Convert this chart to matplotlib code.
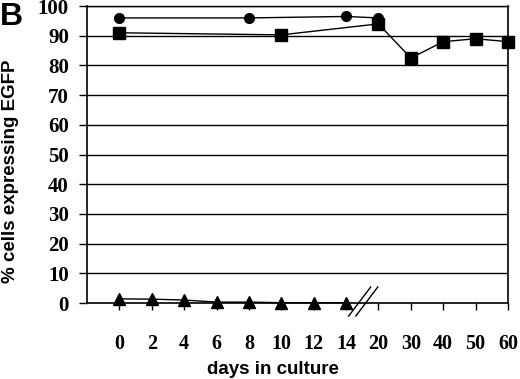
# EGFP expression over time in culture, panel B
import matplotlib.pyplot as plt

# categories on the x axis (broken axis after day 14)
days = ["0", "2", "4", "6", "8", "10", "12", "14", "20", "30", "40", "50", "60"]

# circles: days 0, 8, 14, 20
circle_days = ["0", "8", "14", "20"]
circle_vals = [96, 96, 96.5, 96]

# squares: days 0, 10, 20, 30, 40, 50, 60
square_days = ["0", "10", "20", "30", "40", "50", "60"]
square_vals = [91, 90.3, 94, 82.5, 88, 89, 88]

# triangles: days 0 to 14
tri_days = ["0", "2", "4", "6", "8", "10", "12", "14"]
tri_vals = [1.4, 1.3, 1.0, 0.3, 0.3, 0.1, 0.1, 0.1]

yticks = list(range(0, 101, 10))

pos = {d: i for i, d in enumerate(days)}

fig = plt.figure(figsize=(5.2, 3.79), dpi=100)
ax = fig.add_axes([0.1673, 0.2005, 0.8096, 0.7835])

for y in yticks[1:]:
    ax.axhline(y, color="black", lw=1.0, zorder=1)

ax.plot([pos[d] for d in circle_days], circle_vals, color="black", lw=1,
        marker="o", markersize=7, zorder=3, clip_on=False)
ax.plot([pos[d] for d in square_days], square_vals, color="black", lw=1,
        marker="s", markersize=8.5, zorder=3, clip_on=False)
ax.plot([pos[d] for d in tri_days], tri_vals, color="black", lw=1,
        marker="^", markersize=8, zorder=3, clip_on=False)

ax.set_xlim(-1, 12)
ax.set_ylim(0, 100)
ax.set_xticks(range(len(days)))
ax.set_xticklabels(days)
ax.set_yticks(yticks)

for s in ax.spines.values():
    s.set_color("black")
    s.set_linewidth(1.2)
ax.spines["top"].set_linewidth(1.0)

ax.tick_params(axis="y", direction="out", length=6, width=1, pad=7)
ax.tick_params(axis="x", direction="out", length=5, width=1, pad=17)
for lab in ax.get_yticklabels():
    lab.set_fontfamily("Liberation Serif")
    lab.set_fontweight("bold")
    lab.set_fontsize(15)
for lab in ax.get_xticklabels():
    lab.set_fontfamily("Liberation Serif")
    lab.set_fontweight("bold")
    lab.set_fontsize(14.5)

# axis break marks between 14 and 20
for dx in (0, 0.22):
    ax.plot([7.08 + dx, 7.76 + dx], [-4.4, 5.4], color="black", lw=1,
            clip_on=False, zorder=4)

ax.set_xlabel("days in culture", fontfamily="Liberation Sans",
              fontweight="bold", fontsize=13.5)
ax.xaxis.set_label_coords(0.442, -0.195)
ax.set_ylabel("% cells expressing EGFP", fontfamily="Liberation Sans",
              fontweight="bold", fontsize=13.5)
ax.yaxis.set_label_coords(-0.162, 0.444)

fig.text(0.0, 0.995, "B", fontfamily="Liberation Sans", fontweight="bold",
         fontsize=23, ha="left", va="top")

fig.savefig("out.png", dpi=100)
